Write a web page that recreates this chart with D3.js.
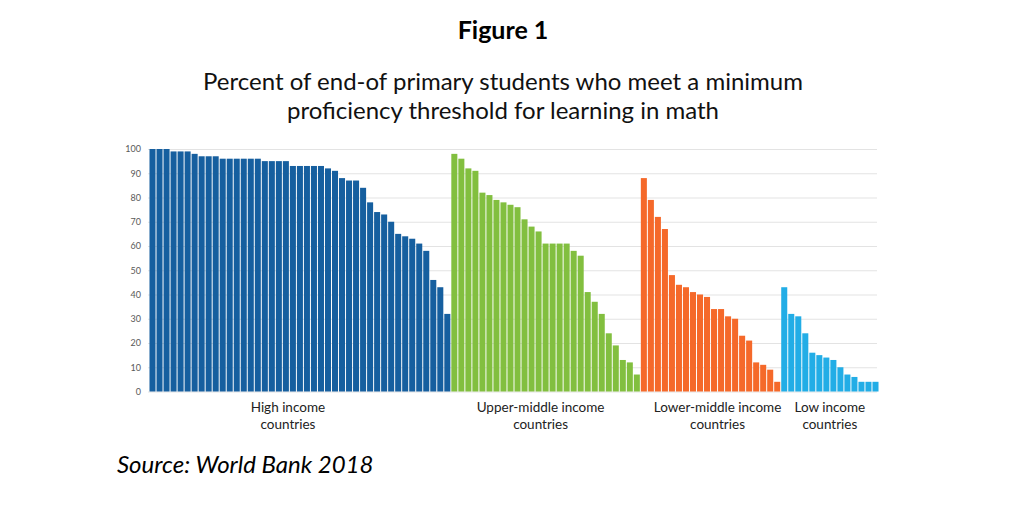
<!DOCTYPE html>
<html>
<head>
<meta charset="utf-8">
<script src="https://cdn.jsdelivr.net/npm/d3@7"></script>
<style>
  body { margin: 0; background: #fff; }
  svg { display: block; }
</style>
</head>
<body>
<div id="chart"></div>
<script>
// values, sorted high to low inside each group
var highIncome = [100,100,100,99,99,99,98,97,97,97,96,96,96,96,96,96,95,95,95,95,
                  93,93,93,93,93,92,91,88,87,87,84,78,74,73,70,65,64,63,61,58,46,43,32];
var upperMiddle = [98,96,92,91,82,81,79,78,77,76,71,68,66,61,61,61,61,58,56,41,37,32,24,19,13,12,7];
var lowerMiddle = [88,79,72,67,48,44,43,41,40,39,34,34,31,30,23,21,12,11,9,4];
var lowIncome = [43,32,31,24,16,15,14,13,10,7,6,4,4,4];

var groupNames = ["High income", "Upper-middle income", "Lower-middle income", "Low income"];
var groupColors = ["#165f9f", "#82bf3f", "#f5692a", "#22ade6"];
var yTicks = [0,10,20,30,40,50,60,70,80,90,100];

var width = 1024, height = 517;

var svg = d3.select("#chart").append("svg")
  .attr("width", width)
  .attr("height", height);

var font = "Lato, 'Open Sans', sans-serif";

// flatten groups into one row per bar
var series = [highIncome, upperMiddle, lowerMiddle, lowIncome];
var bars = [];
series.forEach(function(vals, g) {
  vals.forEach(function(v) { bars.push({group: g, value: v, idx: bars.length}); });
});

var x = d3.scaleBand()
  .domain(bars.map(function(d) { return d.idx; }))
  .range([149, 879])
  .paddingInner(0.14)
  .paddingOuter(0.07);

var y = d3.scaleLinear()
  .domain([0, 100])
  .range([391.5, 149]);

// gridlines + tick labels
var yAxis = d3.axisLeft(y)
  .tickValues(yTicks)
  .tickSize(-(877 - 148))
  .tickPadding(7);

var gy = svg.append("g")
  .attr("transform", "translate(148,0)")
  .call(yAxis);
gy.select(".domain").remove();
gy.selectAll(".tick line").attr("stroke", "#e3e3e3").attr("stroke-width", 1);
gy.selectAll(".tick text")
  .attr("fill", "#595959")
  .style("font", "9px " + font);

// bars
svg.append("g").selectAll("rect")
  .data(bars)
  .enter().append("rect")
  .attr("x", function(d) { return x(d.idx); })
  .attr("width", x.bandwidth())
  .attr("y", function(d) { return y(d.value); })
  .attr("height", function(d) { return y(0) - y(d.value); })
  .attr("fill", function(d) { return groupColors[d.group]; });

// category labels under each group (nudged like the original text boxes)
var labelNudge = [-12, -5, 7, 0];
var groupSpans = series.map(function(vals, g) {
  var first = d3.min(bars.filter(function(d) { return d.group === g; }), function(d) { return d.idx; });
  var last = first + vals.length - 1;
  return {name: groupNames[g], cx: (x(first) + x(last) + x.bandwidth()) / 2 + labelNudge[g]};
});

var labels = svg.append("g").selectAll("text")
  .data(groupSpans)
  .enter().append("text")
  .attr("text-anchor", "middle")
  .attr("fill", "#222")
  .style("font", "13.5px " + font);
labels.append("tspan")
  .attr("x", function(d) { return d.cx; })
  .attr("y", 412)
  .text(function(d) { return d.name; });
labels.append("tspan")
  .attr("x", function(d) { return d.cx; })
  .attr("y", 429)
  .text("countries");

// titles
svg.append("text")
  .attr("x", 503).attr("y", 39)
  .attr("text-anchor", "middle")
  .style("font", "bold 25px " + font)
  .attr("fill", "#000")
  .text("Figure 1");

svg.append("text")
  .attr("x", 503).attr("y", 90)
  .attr("text-anchor", "middle")
  .style("font", "24px " + font)
  .attr("fill", "#111")
  .text("Percent of end-of primary students who meet a minimum");

svg.append("text")
  .attr("x", 503).attr("y", 119)
  .attr("text-anchor", "middle")
  .style("font", "24px " + font)
  .attr("fill", "#111")
  .text("proficiency threshold for learning in math");

svg.append("text")
  .attr("x", 117).attr("y", 473)
  .style("font", "italic 24px " + font)
  .attr("fill", "#000")
  .text("Source: World Bank 2018");
</script>
</body>
</html>
